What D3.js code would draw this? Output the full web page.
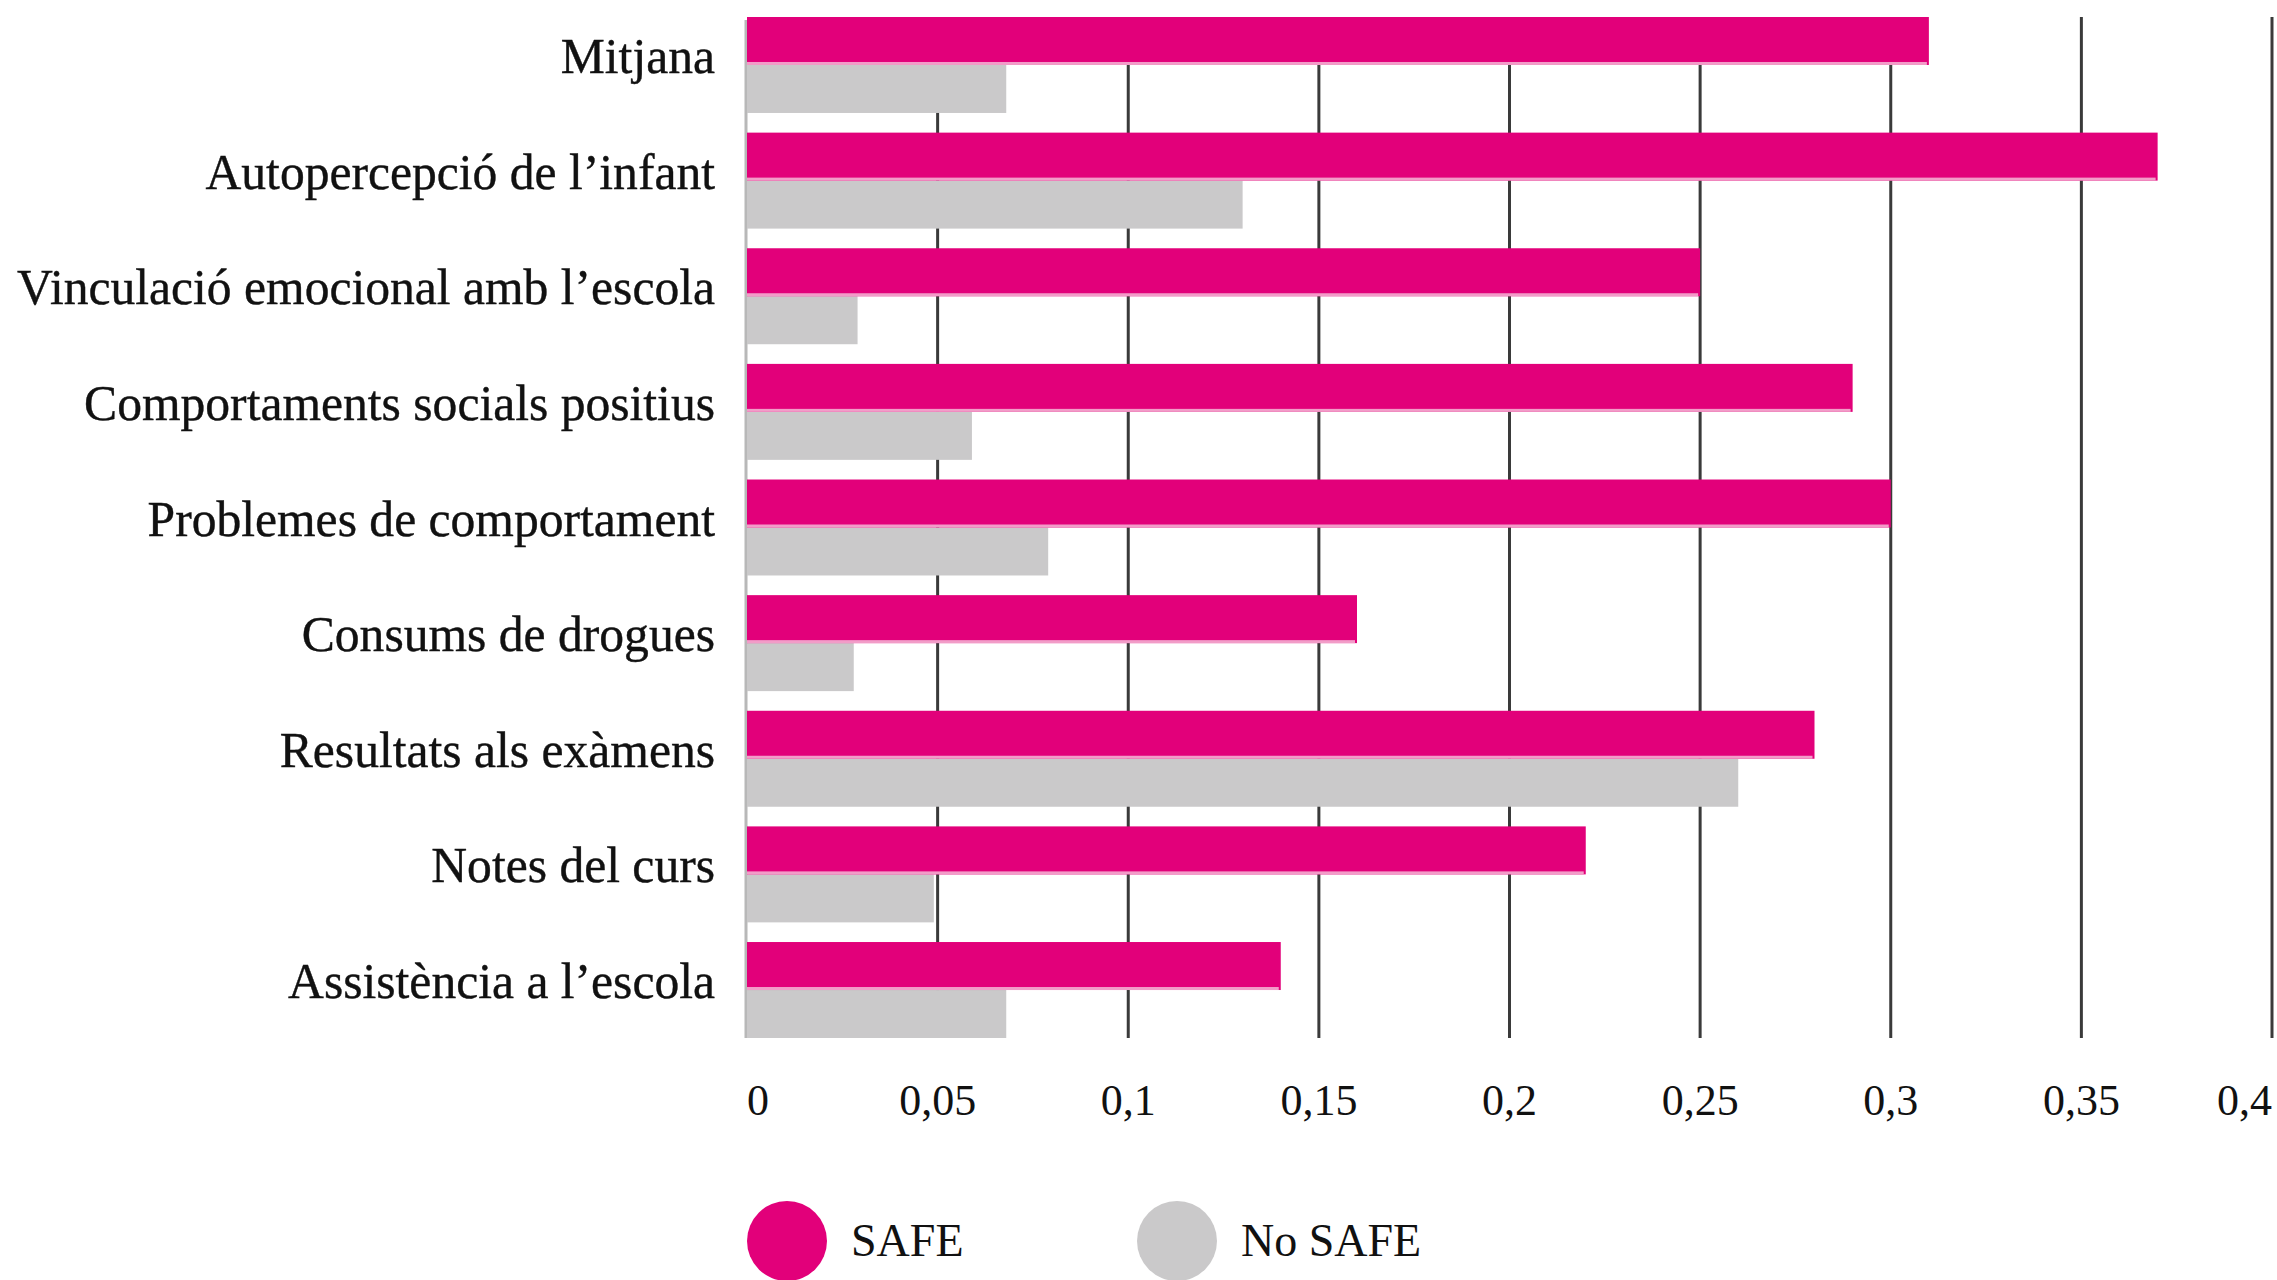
<!doctype html>
<html lang="ca">
<head>
  <meta charset="utf-8">
  <title>SAFE vs No SAFE</title>
  <style>
    html, body { margin: 0; padding: 0; background: #fff; }
    svg text { font-family: "Liberation Serif", "DejaVu Serif", serif; fill: #111; }
  </style>
  <script src="https://d3js.org/d3.v7.min.js"></script>
</head>
<body>
  <div class="canva"></div>
  <script>
    // data
    const categories = [
      "Mitjana",
      "Autopercepció de l’infant",
      "Vinculació emocional amb l’escola",
      "Comportaments socials positius",
      "Problemes de comportament",
      "Consums de drogues",
      "Resultats als exàmens",
      "Notes del curs",
      "Assistència a l’escola"
    ];
    const safeValues = [0.31, 0.37, 0.25, 0.29, 0.30, 0.16, 0.28, 0.22, 0.14];
    const noSafeValues = [0.068, 0.13, 0.029, 0.059, 0.079, 0.028, 0.26, 0.049, 0.068];
    const tickValues = [0, 0.05, 0.1, 0.15, 0.2, 0.25, 0.3, 0.35, 0.4];
    const tickLabels = ["0", "0,05", "0,1", "0,15", "0,2", "0,25", "0,3", "0,35", "0,4"];
    const seriesNames = ["SAFE", "No SAFE"];
    const seriesColors = ["#e2007a", "#cac9ca"];

    const width = 2277, height = 1280;
    const plotLeft = 747, plotRight = 2272, plotTop = 17, plotBottom = 1038;

    const svg = d3.select(".canva").append("svg")
      .attr("width", width)
      .attr("height", height);

    const x = d3.scaleLinear().domain([0, 0.4]).range([plotLeft, plotRight]);
    const y = d3.scaleBand().domain(categories).range([plotTop, plotBottom])
      .paddingInner(0.17).paddingOuter(0);
    const sub = d3.scaleBand().domain(seriesNames).range([0, y.bandwidth()]);

    // vertical grid lines (behind bars)
    svg.append("g").selectAll("line")
      .data(tickValues.slice(1))
      .enter().append("line")
      .attr("x1", d => x(d)).attr("x2", d => x(d))
      .attr("y1", plotTop).attr("y2", plotBottom)
      .attr("stroke", "#3a3a3a")
      .attr("stroke-width", 3);

    // zero axis line
    svg.append("line")
      .attr("x1", x(0) - 1).attr("x2", x(0) - 1)
      .attr("y1", plotTop + 3).attr("y2", plotBottom)
      .attr("stroke", "#b8b8b8")
      .attr("stroke-width", 3);

    const rows = categories.map((c, i) => ({ cat: c, safe: safeValues[i], nosafe: noSafeValues[i] }));

    // No SAFE bars
    svg.append("g").selectAll("rect")
      .data(rows)
      .enter().append("rect")
      .attr("x", x(0))
      .attr("y", d => y(d.cat) + sub("No SAFE"))
      .attr("width", d => x(d.nosafe) - x(0))
      .attr("height", sub.bandwidth())
      .attr("fill", seriesColors[1]);

    // SAFE bars
    svg.append("g").selectAll("rect")
      .data(rows)
      .enter().append("rect")
      .attr("x", x(0))
      .attr("y", d => y(d.cat) + sub("SAFE"))
      .attr("width", d => x(d.safe) - x(0))
      .attr("height", sub.bandwidth())
      .attr("fill", seriesColors[0]);

    // light pink edge under the SAFE bars
    svg.append("g").selectAll("rect")
      .data(rows)
      .enter().append("rect")
      .attr("x", x(0))
      .attr("y", d => y(d.cat) + sub("SAFE") + sub.bandwidth() - 3)
      .attr("width", d => x(d.safe) - x(0) - 2)
      .attr("height", 3)
      .attr("fill", "#f29cc8");

    // category labels
    svg.append("g").selectAll("text")
      .data(categories)
      .enter().append("text")
      .attr("x", plotLeft - 32)
      .attr("y", d => y(d) + y.bandwidth() / 2 + 8)
      .attr("text-anchor", "end")
      .attr("font-size", 49.6)
      .attr("stroke", "#111")
      .attr("stroke-width", 0.4)
      .text(d => d);

    // tick labels
    svg.append("g").selectAll("text")
      .data(tickValues)
      .enter().append("text")
      .attr("x", d => x(d))
      .attr("y", 1115)
      .attr("font-size", 44)
      .attr("text-anchor", (d, i) => i === 0 ? "start" : (i === tickValues.length - 1 ? "end" : "middle"))
      .text((d, i) => tickLabels[i]);

    // legend
    const legendX = [787, 1177];
    const legend = svg.append("g").selectAll("g")
      .data(seriesNames)
      .enter().append("g")
      .attr("transform", (d, i) => "translate(" + legendX[i] + ",1241)");

    legend.append("circle")
      .attr("r", 40)
      .attr("fill", (d, i) => seriesColors[i]);

    legend.append("text")
      .attr("x", 64)
      .attr("y", 15)
      .attr("font-size", 46)
      .text(d => d);
  </script>
</body>
</html>
